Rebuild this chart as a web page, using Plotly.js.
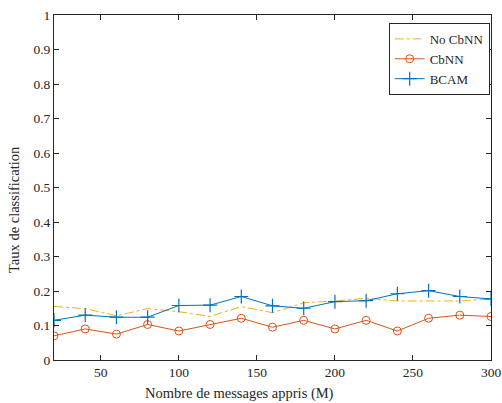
<!DOCTYPE html>
<html><head><meta charset="utf-8">
<script src="https://cdn.plot.ly/plotly-3.0.1.min.js"></script>
<style>body{margin:0;background:#fff}#c{width:502px;height:403px}</style>
</head><body><div id="c"></div>
<script>
const xVals = [20,40,60,80,100,120,140,160,180,200,220,240,260,280,300];
const noCbNN = [0.155,0.149,0.128,0.149,0.140,0.126,0.155,0.137,0.166,0.171,0.179,0.171,0.171,0.171,0.177];
const cbNN = [0.070,0.090,0.075,0.103,0.084,0.103,0.121,0.095,0.115,0.090,0.115,0.084,0.121,0.130,0.126];
const bcam = [0.115,0.130,0.124,0.124,0.158,0.159,0.184,0.157,0.150,0.169,0.172,0.192,0.201,0.184,0.177];
const xTicks = [50,100,150,200,250,300];
const yTicks = [0,0.1,0.2,0.3,0.4,0.5,0.6,0.7,0.8,0.9,1];
const yTickText = ['0','0.1','0.2','0.3','0.4','0.5','0.6','0.7','0.8','0.9','1'];
const xTitle = 'Nombre de messages appris (M)';
const yTitle = 'Taux de classification';

const fam = '"Liberation Serif", "DejaVu Serif", serif';
const tickFont = {family:fam, size:13.5, color:'#262626'};
const titleFont = {family:fam, size:14.5, color:'#262626'};
const legFont = {family:fam, size:13, color:'#262626'};
const traces = [
  {x:xVals, y:noCbNN, name:'No CbNN', mode:'lines', line:{color:'#EDB120', width:1, dash:'dashdot'}},
  {x:xVals, y:cbNN, name:'CbNN', mode:'lines+markers', line:{color:'#D95319', width:1},
   marker:{symbol:'circle-open', size:8, color:'#D95319', line:{width:1}}},
  {x:xVals, y:bcam, name:'BCAM', mode:'lines+markers', line:{color:'#0072BD', width:1},
   marker:{symbol:'cross-thin-open', size:10, color:'#0072BD', line:{width:1.2, color:'#0072BD'}}}
];
const axCommon = {showgrid:false, zeroline:false, showline:true, linecolor:'#262626', linewidth:1,
  mirror:'ticks', ticks:'inside', ticklen:5, tickcolor:'#262626', tickfont:tickFont};
const layout = {
  width:502, height:403, paper_bgcolor:'#fff', plot_bgcolor:'#fff',
  margin:{l:54, r:11, t:15, b:43},
  font:tickFont,
  showlegend:true,
  xaxis:Object.assign({}, axCommon, {range:[20,300], tickvals:xTicks, ticktext:xTicks.map(String)}),
  yaxis:Object.assign({}, axCommon, {range:[0,1], tickvals:yTicks, ticktext:yTickText}),
  annotations:[
    {text:xTitle, xref:'paper', yref:'paper', x:0.4256, y:-0.0957, xanchor:'center', yanchor:'middle',
     showarrow:false, font:titleFont},
    {text:yTitle, xref:'paper', yref:'paper', x:-0.0915, y:0.4348, xanchor:'center', yanchor:'middle',
     textangle:-90, showarrow:false, font:titleFont}
  ],
  legend:{x:0.997, y:0.977, xanchor:'right', yanchor:'top', bgcolor:'#fff', bordercolor:'#262626',
     borderwidth:1, font:legFont, tracegroupgap:0, itemwidth:30}
};
Plotly.newPlot('c', traces, layout, {displayModeBar:false, staticPlot:true});
</script>
</body></html>
